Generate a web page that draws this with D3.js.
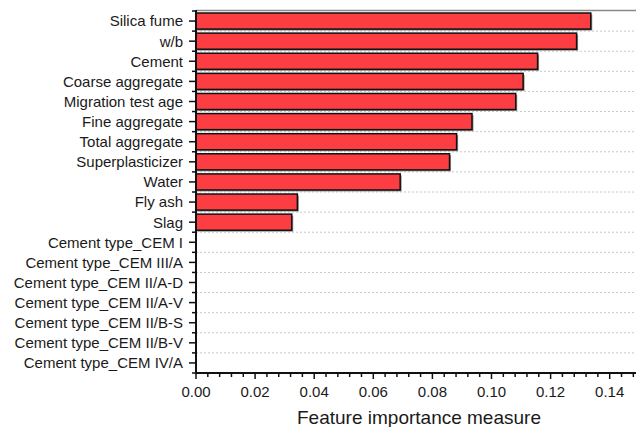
<!DOCTYPE html>
<html><head><meta charset="utf-8">
<script src="https://cdn.jsdelivr.net/npm/d3@7"></script>
<style>body{margin:0;background:#fff}svg{display:block}text{font-family:"Liberation Sans",Arial,sans-serif;fill:#1a1a1a}</style>
</head><body>
<script>
const categories = ["Silica fume","w/b","Cement","Coarse aggregate","Migration test age","Fine aggregate","Total aggregate","Superplasticizer","Water","Fly ash","Slag","Cement type_CEM I","Cement type_CEM III/A","Cement type_CEM II/A-D","Cement type_CEM II/A-V","Cement type_CEM II/B-S","Cement type_CEM II/B-V","Cement type_CEM IV/A"];
const importance = [0.1336,0.1288,0.1156,0.1107,0.1082,0.0934,0.0882,0.0858,0.0691,0.0343,0.0324,0,0,0,0,0,0,0];
const xTicks = [0,0.02,0.04,0.06,0.08,0.10,0.12,0.14];
const xLabel = "Feature importance measure";

(function(){
const W=636,H=427;
const svg=d3.select("body").append("svg").attr("width",W).attr("height",H);
const pL=196,pR=636,pT=11,pB=373;
const x=d3.scaleLinear().domain([0,0.1489]).range([pL,pR]);
const y=d3.scaleBand().domain(categories).range([pT,pB]).paddingInner(0.2).paddingOuter(0.1);
const step=y.step();

svg.append("line").attr("x1",pL).attr("x2",pR).attr("y1",pT-0.5).attr("y2",pT-0.5).attr("stroke","#888").attr("stroke-width",1.5);

const bounds=d3.range(1,categories.length).map(i=>pT+i*step);
svg.append("g").selectAll("line").data(bounds).join("line")
 .attr("x1",pL).attr("x2",pR).attr("y1",d=>d).attr("y2",d=>d)
 .attr("stroke","#c8c8c8").attr("stroke-width",1).attr("stroke-dasharray","2,2");

const bars=svg.append("g");
const data=categories.map((c,i)=>({c,v:importance[i]})).filter(d=>d.v>0);
bars.selectAll("rect.sh").data(data).join("rect").attr("class","sh")
 .attr("x",pL+1.5).attr("y",d=>y(d.c)+1.5).attr("width",d=>x(d.v)-pL).attr("height",y.bandwidth())
 .attr("fill","#777").attr("opacity",0.8);
bars.selectAll("rect.b").data(data).join("rect").attr("class","b")
 .attr("x",pL).attr("y",d=>y(d.c)).attr("width",d=>x(d.v)-pL).attr("height",y.bandwidth())
 .attr("fill","#fc3d41").attr("stroke","#111").attr("stroke-width",1.5);

const ya=svg.append("g");
ya.append("line").attr("x1",pL).attr("x2",pL).attr("y1",pT-1).attr("y2",pB+1).attr("stroke","#111").attr("stroke-width",2);
ya.selectAll("line.mj").data(categories).join("line").attr("class","mj")
 .attr("x1",pL-7).attr("x2",pL).attr("y1",d=>y(d)+y.bandwidth()/2).attr("y2",d=>y(d)+y.bandwidth()/2).attr("stroke","#111").attr("stroke-width",1.5);
ya.selectAll("line.mn").data(d3.range(0,categories.length+1).map(i=>pT+i*step)).join("line").attr("class","mn")
 .attr("x1",pL-4).attr("x2",pL).attr("y1",d=>d).attr("y2",d=>d).attr("stroke","#111").attr("stroke-width",1.5);
ya.selectAll("text").data(categories).join("text")
 .attr("x",pL-13).attr("y",d=>y(d)+y.bandwidth()/2).attr("dy","0.36em").attr("text-anchor","end")
 .attr("font-size",15).text(d=>d);

const xa=svg.append("g");
xa.append("line").attr("x1",pL-1).attr("x2",pR).attr("y1",pB).attr("y2",pB).attr("stroke","#111").attr("stroke-width",2);
xa.selectAll("line.mj").data(xTicks).join("line").attr("class","mj")
 .attr("x1",d=>x(d)).attr("x2",d=>x(d)).attr("y1",pB).attr("y2",pB+6).attr("stroke","#111").attr("stroke-width",1.5);
const minors=d3.range(0,0.1489,0.004).filter(v=>Math.abs(v/0.02-Math.round(v/0.02))>1e-6);
xa.selectAll("line.mn").data(minors).join("line").attr("class","mn")
 .attr("x1",d=>x(d)).attr("x2",d=>x(d)).attr("y1",pB).attr("y2",pB+4).attr("stroke","#111").attr("stroke-width",1.5);
xa.selectAll("text").data(xTicks).join("text")
 .attr("x",d=>x(d)).attr("y",397).attr("text-anchor","middle").attr("font-size",15)
 .text(d=>d3.format(".2f")(d));
svg.append("text").attr("x",419).attr("y",424).attr("text-anchor","middle")
 .attr("font-size",19).text(xLabel);
})();
</script>
</body></html>
